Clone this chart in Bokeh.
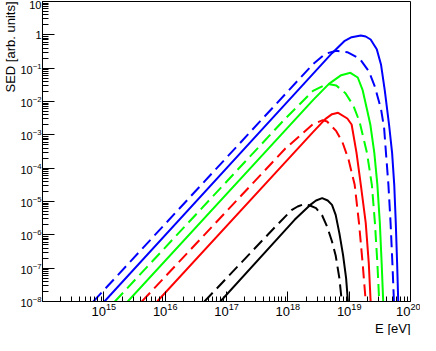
import numpy as np
from bokeh.plotting import figure
from bokeh.models import Range1d, FixedTicker, Title
from bokeh.embed import file_html
from bokeh.resources import INLINE

# ---- data (log10 of energy in eV, log10 of SED in arb. units) ----
blue_solid_logE = [15.01, 18.41, 18.72, 18.92, 19.04, 19.19, 19.27, 19.35, 19.45, 19.52, 19.58, 19.65, 19.70, 19.735, 19.76, 19.782, 19.80]
blue_solid_logS = [-8.0, -1.17, -0.55, -0.19, -0.07, -0.02, -0.05, -0.14, -0.43, -0.90, -1.66, -2.69, -3.54, -4.50, -5.64, -6.86, -8.0]

blue_dashed_logE = [14.83, 18.41, 18.61, 18.79, 18.97, 19.17, 19.32, 19.42, 19.52, 19.57, 19.60, 19.64, 19.675, 19.705, 19.73]
blue_dashed_logS = [-8.0, -0.88, -0.57, -0.48, -0.52, -0.71, -1.09, -1.56, -2.23, -2.80, -3.54, -4.50, -5.64, -6.86, -8.0]

green_solid_logE = [15.39, 18.41, 18.67, 18.87, 19.02, 19.14, 19.22, 19.29, 19.345, 19.41, 19.46, 19.50, 19.53, 19.555]
green_solid_logS = [-8.0, -1.96, -1.47, -1.21, -1.14, -1.28, -1.66, -2.23, -2.69, -3.54, -4.50, -5.64, -6.86, -8.0]

green_dashed_logE = [15.18, 17.96, 18.41, 18.64, 18.79, 18.94, 19.07, 19.17, 19.29, 19.37, 19.42, 19.46, 19.49]
green_dashed_logS = [-8.0, -2.51, -1.68, -1.47, -1.52, -1.75, -2.13, -2.61, -3.54, -4.50, -5.64, -6.86, -8.0]

red_solid_logE = [15.87, 18.41, 18.61, 18.72, 18.82, 18.97, 19.04, 19.12, 19.19, 19.27, 19.32, 19.35]
red_solid_logS = [-8.0, -2.92, -2.53, -2.38, -2.34, -2.51, -2.69, -3.54, -4.50, -5.64, -6.86, -8.0]

red_dashed_logE = [15.62, 17.96, 18.41, 18.57, 18.64, 18.79, 18.89, 18.99, 19.09, 19.16, 19.22, 19.27]
red_dashed_logS = [-8.0, -3.41, -2.68, -2.56, -2.60, -2.89, -3.22, -3.74, -4.50, -5.64, -6.86, -8.0]

black_solid_logE = [16.90, 18.11, 18.36, 18.46, 18.56, 18.65, 18.72, 18.78, 18.84, 18.90, 18.95, 18.98]
black_solid_logS = [-8.0, -5.55, -5.11, -4.97, -4.90, -4.97, -5.10, -5.40, -5.95, -6.60, -7.30, -8.0]

black_dashed_logE = [16.64, 17.81, 18.06, 18.16, 18.26, 18.36, 18.46, 18.56, 18.64, 18.72, 18.78, 18.84, 18.88]
black_dashed_logS = [-8.0, -5.73, -5.26, -5.15, -5.08, -5.12, -5.20, -5.42, -5.75, -6.20, -6.62, -7.30, -8.0]

x_major_exponents = [15, 16, 17, 18, 19, 20]
y_major_exponents = [-8, -7, -6, -5, -4, -3, -2, -1, 0, 1]
x_title = "E [eV]"
y_title = "SED [arb. units]"

FONT = "Liberation Sans"
DASH = "12 6"

X_LO, X_HI = 1e14, 1e20
Y_LO, Y_HI = 1e-8, 10.0

p = figure(width=420, height=335, x_axis_type="log", y_axis_type="log",
           x_range=Range1d(X_LO, X_HI), y_range=Range1d(Y_LO, Y_HI),
           output_backend="svg", toolbar_location=None,
           min_border_left=0, min_border_right=10, min_border_top=1, min_border_bottom=0)

p.xgrid.visible = False
p.ygrid.visible = False
p.outline_line_color = "black"
p.outline_line_width = 1
p.background_fill_color = "white"
p.border_fill_color = "white"

series = [
    (black_dashed_logE, black_dashed_logS, "black", True),
    (black_solid_logE, black_solid_logS, "black", False),
    (red_dashed_logE, red_dashed_logS, "#ff0000", True),
    (red_solid_logE, red_solid_logS, "#ff0000", False),
    (green_dashed_logE, green_dashed_logS, "#00ff00", True),
    (green_solid_logE, green_solid_logS, "#00ff00", False),
    (blue_dashed_logE, blue_dashed_logS, "#0000ff", True),
    (blue_solid_logE, blue_solid_logS, "#0000ff", False),
]
for le, ls, col, dashed in series:
    x = 10.0 ** np.array(le)
    y = 10.0 ** np.array(ls)
    p.line(x, y, line_color=col, line_width=2, line_dash=DASH if dashed else "solid")

x_minor = [k * 10.0 ** n for n in range(14, 20) for k in range(2, 10)]
y_minor = [k * 10.0 ** n for n in range(-8, 1) for k in range(2, 10)]
p.xaxis.ticker = FixedTicker(ticks=[10.0 ** e for e in x_major_exponents], minor_ticks=x_minor)
p.yaxis.ticker = FixedTicker(ticks=[10.0 ** e for e in y_major_exponents], minor_ticks=y_minor)
p.yaxis.major_label_overrides = {1.0: "1", 10.0: "10"}

for ax in (p.xaxis, p.yaxis):
    ax.axis_line_color = "black"
    ax.major_tick_line_color = "black"
    ax.minor_tick_line_color = "black"
    ax.major_tick_out = 0
    ax.minor_tick_out = 0
    ax.major_label_text_font = FONT
    ax.major_label_text_color = "black"
    ax.axis_label = None

p.xaxis.major_label_text_font_size = "13px"
p.yaxis.major_label_text_font_size = "11px"
p.xaxis.major_tick_in = 10
p.xaxis.minor_tick_in = 5
p.xaxis.major_label_standoff = 1
p.yaxis.major_tick_in = 12
p.yaxis.minor_tick_in = 6
p.yaxis.major_label_standoff = 1

p.add_layout(Title(text=x_title, align="right", standoff=0, text_font=FONT,
                   text_font_size="13px", text_font_style="normal", text_color="black",
                   text_line_height=1.0), "below")
p.add_layout(Title(text=y_title, align="right", standoff=0, text_font=FONT,
                   text_font_size="13px", text_font_style="normal", text_color="black",
                   text_line_height=1.0), "left")

open("out.html", "w").write(file_html(p, INLINE))
